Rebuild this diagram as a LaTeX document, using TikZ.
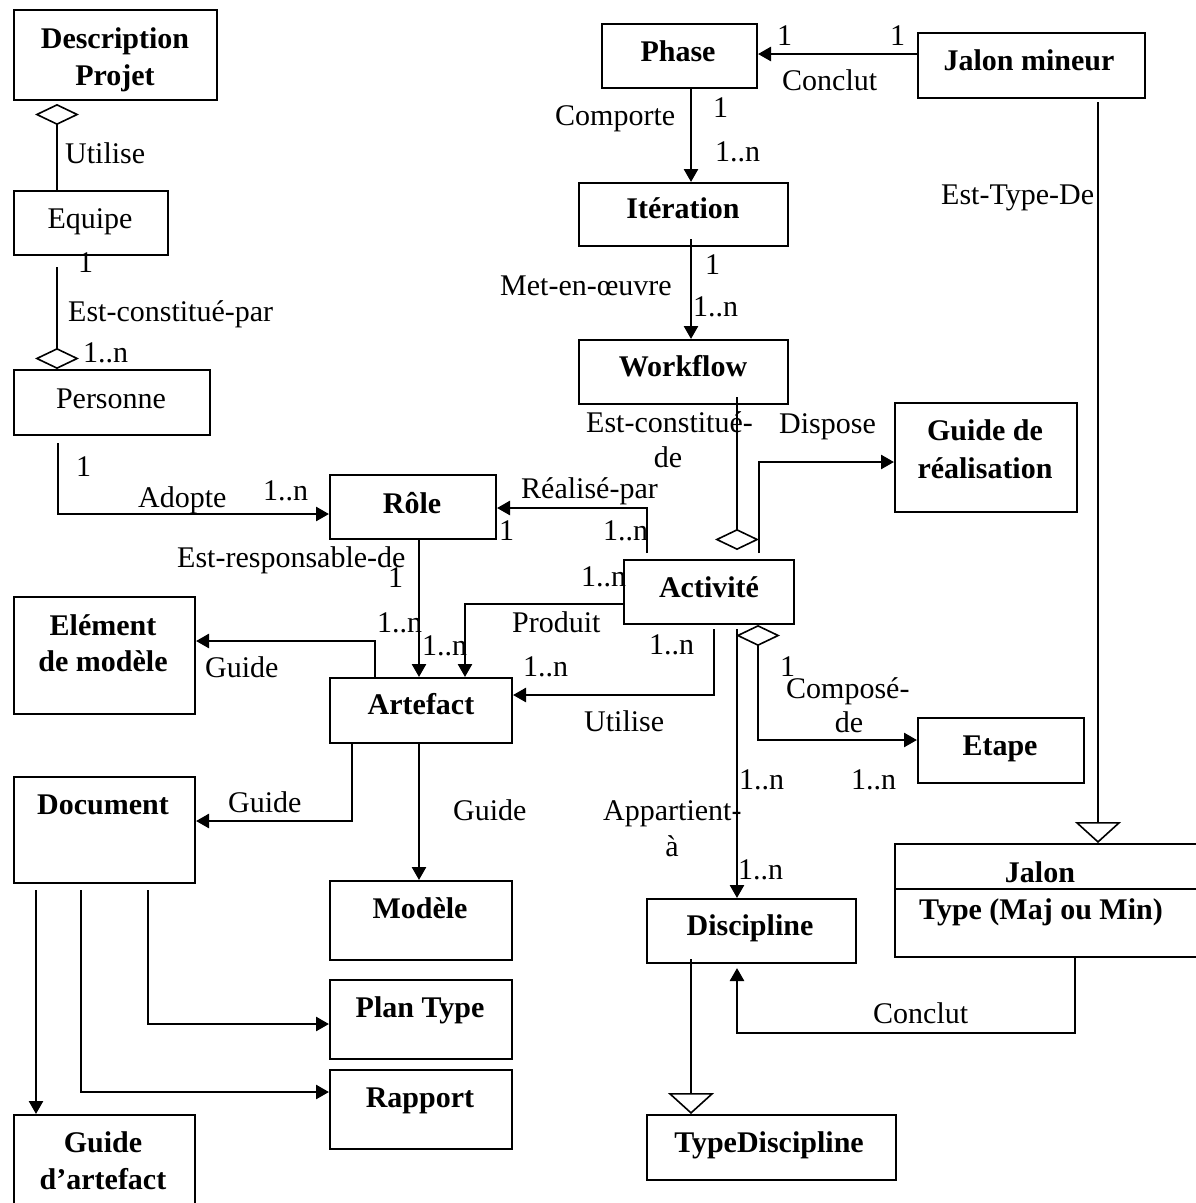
\documentclass[tikz,border=0pt]{standalone}
\usepackage{fontspec}
\setmainfont{Liberation Serif}
\usetikzlibrary{arrows.meta,calc}

\tikzset{
  box/.style={draw, line width=2pt, inner sep=0pt, anchor=north west},
  lbl/.style={font=\fontsize{30}{36}\selectfont, inner sep=0pt},
  blbl/.style={font=\fontsize{30}{36}\selectfont\bfseries, inner sep=0pt, anchor=base},
  lw/.style={lbl, anchor=base west},
  lc/.style={lbl, anchor=base},
  tri/.tip={Triangle[length=13pt,width=14pt]},
  agg/.tip={Diamond[open,length=21pt,width=44pt,line width=1.6pt]},
  gen/.tip={Triangle[open,length=21pt,width=46pt,line width=1.6pt]},
  assoc/.style={line width=2.6pt, -tri},
  thinline/.style={line width=1.6pt},
}

\begin{document}
\begin{tikzpicture}[x=1pt,y=-1pt]
\useasboundingbox (0,0) rectangle (1195,1203);

% ---------- classes ----------
\node[box, minimum width=203, minimum height=90]  (desc)       at (13,9)    {};
\node[box, minimum width=154, minimum height=64]  (equipe)     at (13,190)  {};
\node[box, minimum width=196, minimum height=65]  (personne)   at (13,369)  {};
\node[box, minimum width=166, minimum height=64]  (role)       at (329,474) {};
\node[box, minimum width=181, minimum height=117] (elem)       at (13,596)  {};
\node[box, minimum width=182, minimum height=65]  (artefact)   at (329,677) {};
\node[box, minimum width=181, minimum height=106] (document)   at (13,776)  {};
\node[box, minimum width=182, minimum height=79]  (modele)     at (329,880) {};
\node[box, minimum width=182, minimum height=79]  (plantype)   at (329,979) {};
\node[box, minimum width=182, minimum height=79]  (rapport)    at (329,1069){};
\node[box, minimum width=181, minimum height=101] (guideart)   at (13,1114) {};
\node[box, minimum width=155, minimum height=64]  (phase)      at (601,23)  {};
\node[box, minimum width=227, minimum height=65]  (jalonmin)   at (917,32)  {};
\node[box, minimum width=209, minimum height=63]  (iteration)  at (578,182) {};
\node[box, minimum width=209, minimum height=64]  (workflow)   at (578,339) {};
\node[box, minimum width=182, minimum height=109] (guidereal)  at (894,402) {};
\node[box, minimum width=170, minimum height=64]  (activite)   at (623,559) {};
\node[box, minimum width=166, minimum height=65]  (etape)      at (917,717) {};
\node[box, minimum width=209, minimum height=64]  (discipline) at (646,898) {};
\node[box, minimum width=321, minimum height=113] (jalon)      at (894,843) {};
\node[box, minimum width=249, minimum height=65]  (typedisc)   at (646,1114){};
\draw[line width=2pt] (jalon.west |- 0,889) -- (jalon.east |- 0,889);

% ---------- class names ----------
\node[blbl] (descA)  at (115,48)   {Description};
\node[blbl] (descB)  at (115,85)   {Projet};
\node[lc]   (equipeT) at (90,228)  {Equipe};
\node[lc]   (persT)  at (111,408)  {Personne};
\node[blbl] (roleT)  at (412,513)  {Rôle};
\node[blbl] (elemA)  at (103,635)  {Elément};
\node[blbl] (elemB)  at (103,671)  {de modèle};
\node[blbl] (artT)   at (421,714)  {Artefact};
\node[blbl] (docT)   at (103,814)  {Document};
\node[blbl] (modT)   at (420,918)  {Modèle};
\node[blbl] (planT)  at (420,1017) {Plan Type};
\node[blbl] (rappT)  at (420,1107) {Rapport};
\node[blbl] (gaA)    at (103,1152) {Guide};
\node[blbl] (gaB)    at (103,1189) {d’artefact};
\node[blbl] (phaseT) at (678,61)   {Phase};
\node[blbl] (jminT)  at (1029,70)  {Jalon mineur};
\node[blbl] (iterT)  at (683,218)  {Itération};
\node[blbl] (wfT)    at (683,376)  {Workflow};
\node[blbl] (grA)    at (985,440)  {Guide de};
\node[blbl] (grB)    at (985,478)  {réalisation};
\node[blbl] (actT)   at (709,597)  {Activité};
\node[blbl] (etapeT) at (1000,755) {Etape};
\node[blbl] (discT)  at (750,935)  {Discipline};
\node[blbl] (jalA)   at (1040,882) {Jalon};
\node[blbl] (jalB)   at (1041,919) {Type (Maj ou Min)};
\node[blbl] (tdT)    at (769,1152) {TypeDiscipline};

% ---------- connectors ----------
\draw[thinline, shorten <=3pt, agg-] (desc.south -| 57,0) -- (equipe.north -| 57,0);
\draw[thinline, shorten <=11pt, -agg] (equipe.south -| 57,0) -- (personne.north -| 57,0);
\draw[assoc, shorten <=7pt] (personne.south -| 58,0) |- (role.west |- 0,514);
\draw[assoc] (role.south -| 419,0) -- (artefact.north -| 419,0);
\draw[assoc] (artefact.north -| 375,0) |- (elem.east |- 0,641);
\draw[assoc, shorten <=6pt] (activite.north -| 647,0) |- (role.east |- 0,508);
\draw[assoc] (activite.west |- 0,604) -| (artefact.north -| 465,0);
\draw[assoc, shorten <=4pt] (activite.south -| 714,0) |- (artefact.east |- 0,695);
\draw[thinline, shorten <=-8pt, shorten >=9pt, -agg] (workflow.south -| 737,0) -- (activite.north -| 737,0);
\draw[assoc, shorten <=6pt] (activite.north -| 759,0) |- (guidereal.west |- 0,462);
\draw[assoc, agg-tri] (activite.south -| 758,0) |- (etape.west |- 0,740);
\draw[assoc, shorten <=4pt] (activite.south -| 737,0) -- (discipline.north -| 737,0);
\draw[assoc] (jalonmin.west |- 0,54) -- (phase.east |- 0,54);
\draw[assoc] (phase.south -| 691,0) -- (iteration.north -| 691,0);
\draw[assoc, shorten <=-8pt] (iteration.south -| 691,0) -- (workflow.north -| 691,0);
\draw[thinline, shorten <=3pt, -gen] (jalonmin.south -| 1098,0) -- (jalon.north -| 1098,0);
\coordinate (cbend) at (737,1033);
\draw[assoc, shorten >=4pt] (jalon.south -| 1075,0) |- (cbend) -- (discipline.south -| 737,0);
\draw[thinline, shorten <=-5pt, -gen] (discipline.south -| 691,0) -- (typedisc.north -| 691,0);
\draw[assoc] (artefact.south -| 352,0) |- (document.east |- 0,821);
\draw[assoc] (artefact.south -| 419,0) -- (modele.north -| 419,0);
\draw[assoc, shorten <=6pt] (document.south -| 36,0) -- (guideart.north -| 36,0);
\draw[assoc, shorten <=6pt] (document.south -| 81,0) |- (rapport.west |- 0,1092);
\draw[assoc, shorten <=6pt] (document.south -| 148,0) |- (plantype.west |- 0,1024);

% ---------- role names and multiplicities ----------
\node[lw] (l01) at (65,163)  {Utilise};
\node[lw] (l02) at (78,272)  {1};
\node[lw] (l03) at (68,321)  {Est-constitué-par};
\node[lw] (l04) at (83,362)  {1..n};
\node[lw] (l05) at (76,476)  {1};
\node[lw] (l06) at (138,507) {Adopte};
\node[lw] (l07) at (263,500) {1..n};
\node[lw] (l08) at (177,567) {Est-responsable-de};
\node[lw] (l09) at (388,587) {1};
\node[lw] (l10) at (377,632) {1..n};
\node[lw] (l11) at (422,655) {1..n};
\node[lw] (l12) at (205,677) {Guide};
\node[lw] (l13) at (777,45)  {1};
\node[lw] (l14) at (890,45)  {1};
\node[lw] (l15) at (782,90)  {Conclut};
\node[lw] (l16) at (555,125) {Comporte};
\node[lw] (l17) at (713,117) {1};
\node[lw] (l18) at (715,161) {1..n};
\node[lw] (l19) at (941,204) {Est-Type-De};
\node[lw] (l20) at (705,274) {1};
\node[lw] (l21) at (500,295) {Met-en-œuvre};
\node[lw] (l22) at (693,316) {1..n};
\node[lw] (l23) at (586,432) {Est-constitué-};
\node[lc] (l24) at (668,467) {de};
\node[lw] (l25) at (779,433) {Dispose};
\node[lw] (l26) at (521,498) {Réalisé-par};
\node[lw] (l27) at (499,540) {1};
\node[lw] (l28) at (603,540) {1..n};
\node[lw] (l29) at (581,586) {1..n};
\node[lw] (l30) at (512,632) {Produit};
\node[lw] (l31) at (649,654) {1..n};
\node[lw] (l32) at (523,676) {1..n};
\node[lw] (l33) at (780,676) {1};
\node[lw] (l34) at (786,698) {Composé-};
\node[lc] (l35) at (849,732) {de};
\node[lw] (l36) at (584,731) {Utilise};
\node[lw] (l37) at (739,789) {1..n};
\node[lw] (l38) at (851,789) {1..n};
\node[lw] (l39) at (603,820) {Appartient-};
\node[lc] (l40) at (672,856) {à};
\node[lw] (l41) at (738,879) {1..n};
\node[lw] (l42) at (873,1023) {Conclut};
\node[lw] (l43) at (228,812) {Guide};
\node[lw] (l44) at (453,820) {Guide};
\end{tikzpicture}
\end{document}
